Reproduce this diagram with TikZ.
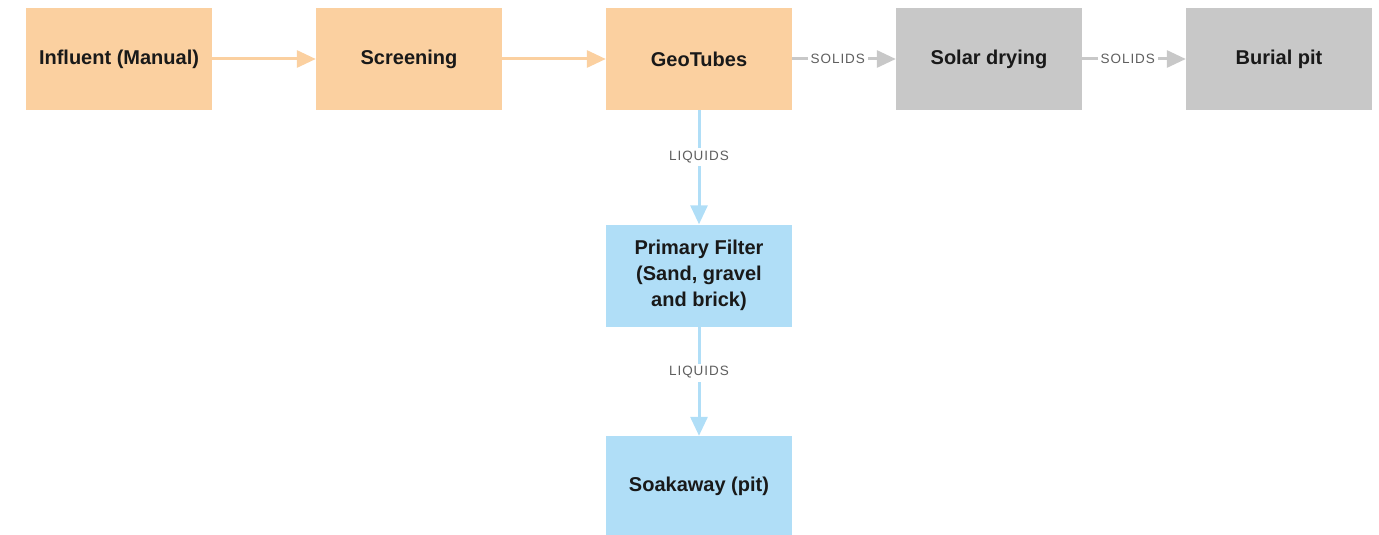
\documentclass[tikz,border=0pt]{standalone}
\usepackage{fontspec}
\setmainfont{Liberation Sans}
\usetikzlibrary{arrows.meta}
\definecolor{orangebox}{RGB}{251,208,160}
\definecolor{bluebox}{RGB}{176,222,247}
\definecolor{graybox}{RGB}{200,200,200}
\definecolor{labelgray}{RGB}{95,95,95}
\tikzset{
  stage/.style={minimum width=186pt, minimum height=102pt, inner sep=0pt,
    align=center, text=black!90, font=\bfseries\fontsize{20}{26}\selectfont},
  flow/.style={line width=3pt, -{Triangle[length=19pt,width=17pt]}},
  tag/.style={fill=white, text=labelgray, inner sep=3pt,
    font=\fontsize{13.5}{15}\selectfont\addfontfeature{LetterSpace=7}}
}
\begin{document}
\begin{tikzpicture}[x=1pt,y=1pt]
      \useasboundingbox (0,0) rectangle (1379,-535);
      \draw
        (119,-59) node[stage,fill=orangebox] (influent){Influent (Manual)}
        (409,-59) node[stage,fill=orangebox] (screening){Screening}
        (699,-59) node[stage,fill=orangebox] (geotubes){GeoTubes}
        (989,-59) node[stage,fill=graybox] (solar){Solar drying}
        (1279,-59) node[stage,fill=graybox] (burial){Burial pit}
        (699,-275.5) node[stage,fill=bluebox] (filter){Primary Filter\\(Sand, gravel\\and brick)}
        (699,-486) node[stage,fill=bluebox,minimum height=100pt] (soakaway){Soakaway (pit)};
      \begin{scope}[flow]
        \draw[orangebox] (influent) to (screening);
        \draw[orangebox] (screening) to (geotubes);
        \draw[graybox] (geotubes) to node[tag,pos=0.44]{SOLIDS} (solar);
        \draw[graybox] (solar) to node[tag,pos=0.44]{SOLIDS} (burial);
        \draw[bluebox] (geotubes) to node[tag,pos=0.41]{LIQUIDS} (filter);
        \draw[bluebox] (filter) to node[tag,pos=0.42]{LIQUIDS} (soakaway);
      \end{scope}
    \end{tikzpicture}
\end{document}
